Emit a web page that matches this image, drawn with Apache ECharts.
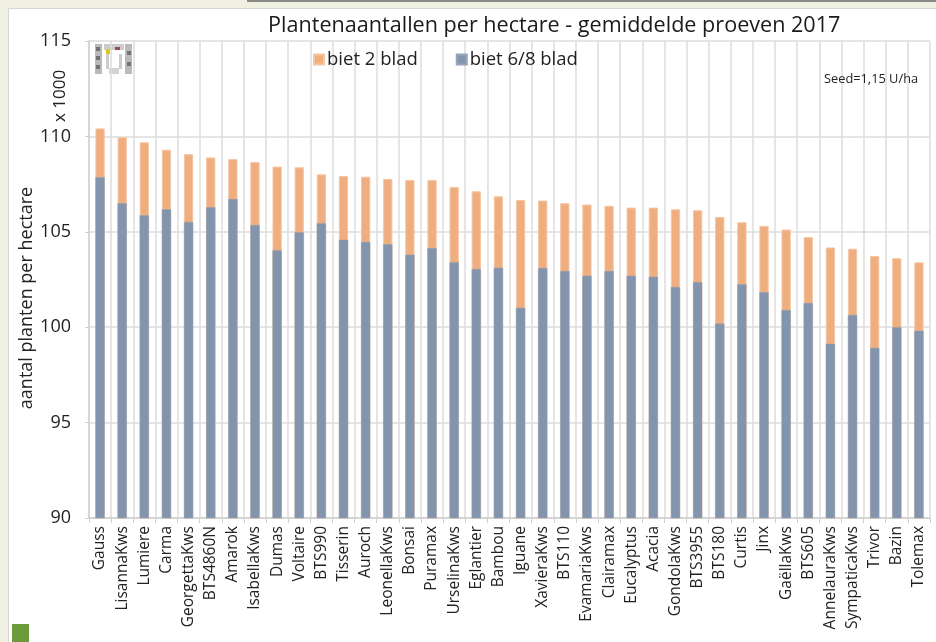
<!DOCTYPE html>
<html>
<head>
<meta charset="utf-8">
<script src="https://cdn.jsdelivr.net/npm/echarts@6/dist/echarts.min.js"></script>
<style>
html,body{margin:0;padding:0;background:#eff0e2;}
#c{width:936px;height:642px;}
</style>
</head>
<body>
<div id="c"></div>
<script>
const categories = ["Gauss","LisannaKws","Lumiere","Carma","GeorgettaKws","BTS4860N","Amarok","IsabellaKws","Dumas","Voltaire","BTS990","Tisserin","Auroch","LeonellaKws","Bonsai","Puramax","UrselinaKws","Eglantier","Bambou","Iguane","XavieraKws","BTS110","EvamariaKws","Clairamax","Eucalyptus","Acacia","GondolaKws","BTS3955","BTS180","Curtis","Jinx","GaëllaKws","BTS605","AnnelauraKws","SympaticaKws","Trivor","Bazin","Tolemax"];
// top of the stacked bar (biet 6/8 + biet 2 blad), x 1000
const totalTwoLeaf = [110.42,109.96,109.69,109.30,109.07,108.90,108.81,108.66,108.42,108.38,108.01,107.92,107.89,107.77,107.72,107.72,107.35,107.12,106.86,106.67,106.64,106.50,106.43,106.36,106.27,106.27,106.18,106.13,105.78,105.50,105.31,105.12,104.72,104.18,104.11,103.73,103.62,103.40];
// biet 6/8 blad, x 1000
const sixEightLeaf = [107.86,106.50,105.87,106.18,105.52,106.29,106.72,105.35,104.03,104.98,105.45,104.58,104.47,104.35,103.80,104.15,103.41,103.05,103.12,101.02,103.10,102.94,102.70,102.94,102.70,102.64,102.11,102.37,100.19,102.25,101.83,100.90,101.27,99.13,100.64,98.92,100.00,99.81];
const yTicks = {min: 90, max: 115, interval: 5};

const FONT = '"Open Sans"';
const chart = echarts.init(document.getElementById('c'), null, {renderer: 'canvas'});
chart.setOption({
  backgroundColor: '#eff0e2',
  animation: false,
  textStyle: {fontFamily: FONT},
  title: {
    text: 'Plantenaantallen per hectare - gemiddelde proeven 2017',
    left: 263, top: 10,
    textStyle: {fontFamily: FONT, fontSize: 21.6, fontWeight: 'normal', color: '#1a1a1a'}
  },
  legend: {
    left: 308, top: 45,
    itemWidth: 10, itemHeight: 10, itemGap: 38,
    icon: 'rect',
    textStyle: {fontFamily: FONT, fontSize: 18.5, color: '#222', padding: [0,0,0,-2]},
    data: ['biet 2 blad', 'biet 6/8 blad']
  },
  grid: {left: 89, right: 6, top: 41, bottom: 124, containLabel: false, outerBoundsMode: 'none'},
  xAxis: {
    type: 'category',
    data: categories,
    boundaryGap: true,
    axisLine: {show: true, lineStyle: {color: '#d0d0d0', width: 1.5}},
    axisTick: {show: true, interval: 0, length: 5, lineStyle: {color: '#d0d0d0'}},
    splitLine: {show: true, interval: 0, lineStyle: {color: '#dcdcdc', width: 1.5}},
    axisLabel: {interval: 0, rotate: 90, fontSize: 15.5, color: '#222', fontFamily: FONT, margin: 8}
  },
  yAxis: {
    type: 'value',
    min: yTicks.min, max: yTicks.max, interval: yTicks.interval,
    axisLine: {show: true, lineStyle: {color: '#d0d0d0', width: 1.5}},
    axisTick: {show: true, length: 4, lineStyle: {color: '#d0d0d0'}},
    splitLine: {show: true, lineStyle: {color: '#dcdcdc', width: 1.5}},
    axisLabel: {fontSize: 18, color: '#222', fontFamily: FONT, margin: 18}
  },
  series: [
    {
      name: 'biet 2 blad', type: 'bar', data: totalTwoLeaf,
      barWidth: '42%', barGap: '-100%',
      itemStyle: {color: '#efae80', borderColor: '#f5c6a3', borderWidth: 1}
    },
    {
      name: 'biet 6/8 blad', type: 'bar', data: sixEightLeaf,
      barWidth: '42%',
      itemStyle: {color: '#8394ad', borderColor: '#95a4b9', borderWidth: 0.5}
    }
  ],
  graphic: [
    {type: 'rect', z: -10, shape: {x: 8.5, y: 8.5, width: 940, height: 640}, style: {fill: '#ffffff', stroke: '#d6d6d6', lineWidth: 1}},
    {type: 'rect', z: -9, shape: {x: 247, y: 0, width: 700, height: 2}, style: {fill: '#8a8a8a'}},
    {type: 'rect', z: 10, shape: {x: 12, y: 624, width: 17, height: 18}, style: {fill: '#6b9b3a'}},
    {type: 'text', z: 10, x: 27, y: 298, rotation: Math.PI/2,
      style: {text: 'aantal planten per hectare', font: '18px ' + FONT, fill: '#222', align: 'center', verticalAlign: 'middle'}},
    {type: 'text', z: 10, x: 60, y: 96, rotation: Math.PI/2,
      style: {text: 'x 1000', font: '17px ' + FONT, fill: '#222', align: 'center', verticalAlign: 'middle'}},
    {type: 'text', z: 10, left: 824, top: 73,
      style: {text: 'Seed=1,15 U/ha', font: '12.8px ' + FONT, fill: '#222'}},
    {type: 'group', z: 10, left: 95, top: 44, children: [
      {type: 'rect', shape: {x: 0, y: 0, width: 7, height: 30}, style: {fill: '#8c8c8c', opacity: 0.6}},
      {type: 'rect', shape: {x: 1, y: 3, width: 4, height: 4}, style: {fill: '#555', opacity: 0.7}},
      {type: 'rect', shape: {x: 1, y: 12, width: 4, height: 4}, style: {fill: '#555', opacity: 0.7}},
      {type: 'rect', shape: {x: 1, y: 21, width: 4, height: 4}, style: {fill: '#555', opacity: 0.7}},
      {type: 'rect', shape: {x: 30, y: 0, width: 7, height: 30}, style: {fill: '#8c8c8c', opacity: 0.6}},
      {type: 'rect', shape: {x: 32, y: 7, width: 4, height: 4}, style: {fill: '#555', opacity: 0.7}},
      {type: 'rect', shape: {x: 32, y: 18, width: 4, height: 4}, style: {fill: '#555', opacity: 0.7}},
      {type: 'rect', shape: {x: 9, y: 0, width: 20, height: 6}, style: {fill: '#9a9a9a', opacity: 0.5}},
      {type: 'rect', shape: {x: 11, y: 5, width: 4, height: 5}, style: {fill: '#d8c820'}},
      {type: 'rect', shape: {x: 20, y: 3, width: 5, height: 3}, style: {fill: '#8a3030', opacity: 0.8}},
      {type: 'rect', shape: {x: 11, y: 10, width: 3, height: 15}, style: {fill: '#999', opacity: 0.5}},
      {type: 'rect', shape: {x: 24, y: 10, width: 3, height: 15}, style: {fill: '#999', opacity: 0.5}},
      {type: 'rect', shape: {x: 14, y: 24, width: 10, height: 6}, style: {fill: '#aaa', opacity: 0.5}}
    ]}
  ]
});
</script>
</body>
</html>
